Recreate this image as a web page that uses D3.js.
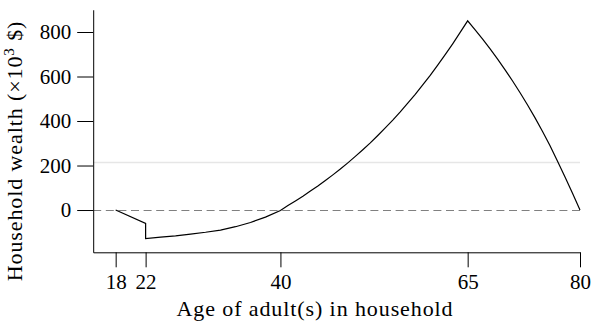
<!DOCTYPE html>
<html>
<head>
<meta charset="utf-8">
<script src="https://cdn.jsdelivr.net/npm/d3@7"></script>
<style>
  html, body { margin: 0; padding: 0; background: #fff; }
  svg { display: block; }
  text { font-family: "Liberation Serif", "DejaVu Serif", serif; fill: #000; }
</style>
</head>
<body>
<svg id="chart" width="600" height="327"></svg>
<script>
// ---- data ----
const ages = [18, 22, 22, 24, 26, 28, 30, 32, 34, 36, 38, 40,
  41, 42, 43, 44, 45, 46, 47, 48, 49, 50, 51, 52, 53, 54, 55, 56, 57, 58, 59, 60, 61, 62, 63, 64, 65,
  66, 67, 68, 69, 70, 71, 72, 73, 74, 75, 76, 77, 78, 79, 80];
const wealth = [0, -60, -128, -122, -116, -108, -100, -90, -75, -56, -32, -2,
  20, 41, 62, 85, 108, 133, 158, 184, 212, 241, 271, 302, 335, 369, 404, 441, 480, 520, 562, 605, 651, 698, 747, 798, 850,
  810, 768, 724, 678, 630, 580, 527, 472, 414, 353, 289, 219, 148, 75, 0];
const xTicks = [18, 22, 40, 65, 80];
const yTicks = [0, 200, 400, 600, 800];
const referenceLevel = 215;   // light gray horizontal line
const zeroLevel = 0;          // dashed line

// ---- scales ----
const svg = d3.select("#chart");
const x = d3.scaleLinear().domain([15, 80]).range([93.2, 580]);
const y = d3.scaleLinear().domain([-190, 900]).range([252.3, 9.75]);
const crisp = v => Math.round(v - 0.5) + 0.5;

// reference lines
svg.append("line")
  .attr("x1", x(15)).attr("x2", x(80))
  .attr("y1", crisp(y(referenceLevel))).attr("y2", crisp(y(referenceLevel)))
  .attr("stroke", "#e6e6e6").attr("stroke-width", 1.5);

svg.append("line")
  .attr("x1", x(15)).attr("x2", x(80))
  .attr("y1", crisp(y(zeroLevel))).attr("y2", crisp(y(zeroLevel)))
  .attr("stroke", "#808080").attr("stroke-width", 1)
  .attr("stroke-dasharray", "8,4.6");

// curve
const pts = ages.map((a, i) => [a, wealth[i]]);
svg.append("path")
  .datum(pts)
  .attr("fill", "none")
  .attr("stroke", "#000")
  .attr("stroke-width", 1.2)
  .attr("stroke-linejoin", "miter")
  .attr("d", d3.line().x(d => x(d[0])).y(d => y(d[1])));

// axes
const xAxis = svg.append("g")
  .attr("transform", `translate(0,${y(-190)})`)
  .call(d3.axisBottom(x).tickValues(xTicks).tickSize(15).tickSizeOuter(0).tickPadding(7).tickFormat(d3.format("d")));
const yAxis = svg.append("g")
  .attr("transform", `translate(${x(15)},0)`)
  .call(d3.axisLeft(y).tickValues(yTicks).tickSize(16).tickSizeOuter(0).tickPadding(6).tickFormat(d3.format("d")));

[xAxis, yAxis].forEach(g => {
  g.attr("font-family", null).attr("font-size", null);
  g.selectAll("path, line").attr("stroke", "#000").attr("stroke-width", 1);
  g.selectAll("text").style("font-size", "21px").attr("fill", "#000");
});

// titles
svg.append("text")
  .attr("x", 315).attr("y", 316)
  .attr("text-anchor", "middle")
  .style("font-size", "22px")
  .attr("letter-spacing", 0.9)
  .text("Age of adult(s) in household");

const yt = svg.append("text")
  .attr("transform", "translate(22,151) rotate(-90)")
  .attr("text-anchor", "middle")
  .style("font-size", "22px")
  .attr("letter-spacing", 0.9);
yt.append("tspan").text("Household wealth (×10");
yt.append("tspan").style("font-size", "15px").attr("dy", -8).text("3");
yt.append("tspan").attr("dy", 8).text(" $)");
</script>
</body>
</html>
